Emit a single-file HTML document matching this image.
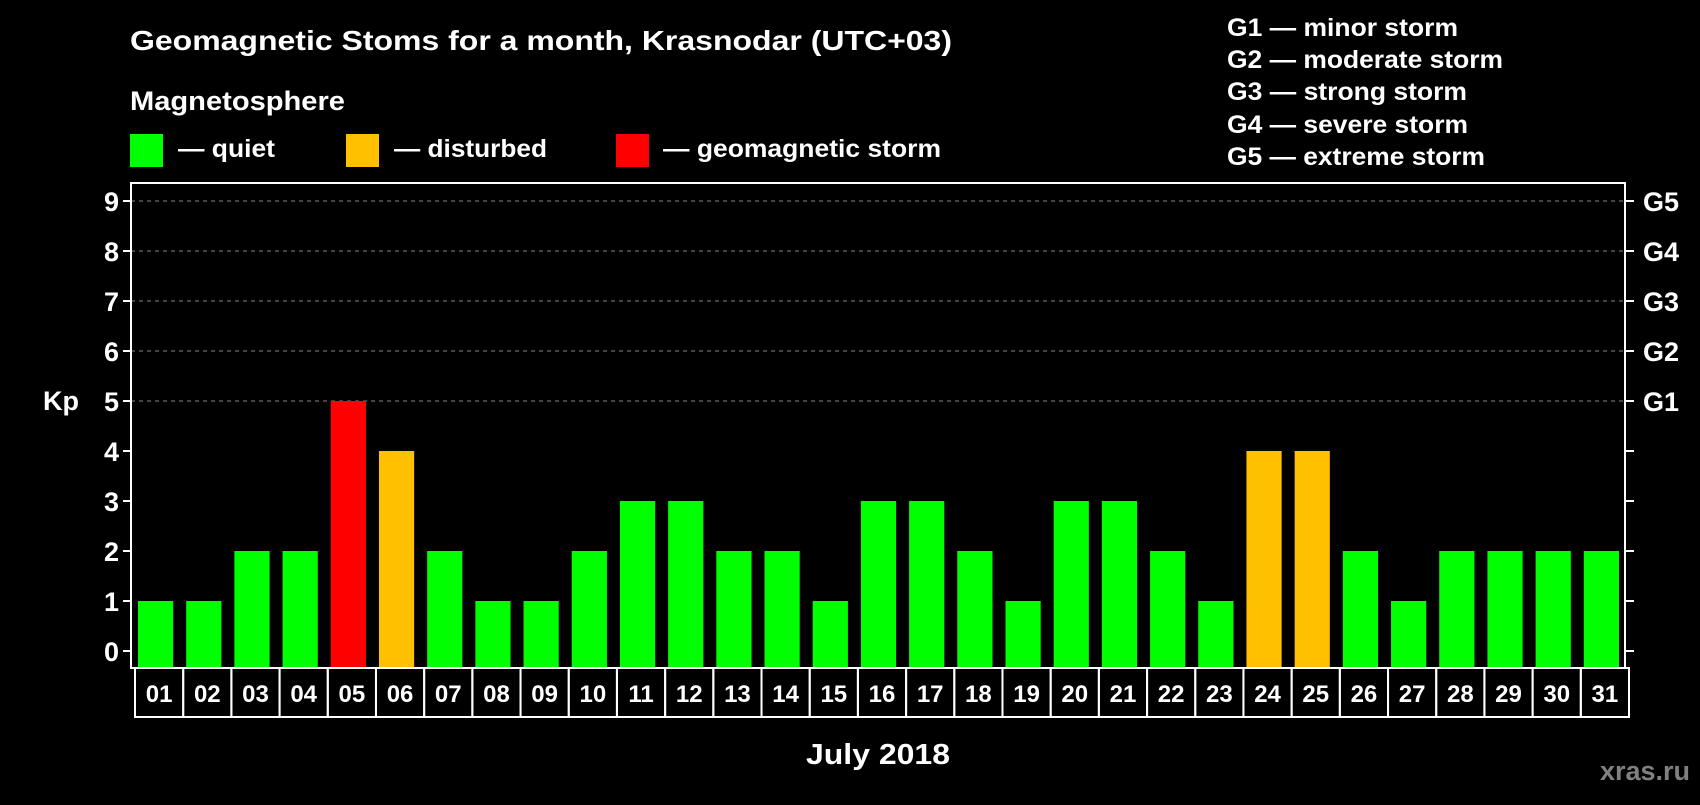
<!DOCTYPE html>
<html><head><meta charset="utf-8"><style>
body{margin:0;background:#000;width:1700px;height:800px;overflow:hidden}
svg text{font-family:"Liberation Sans",Arial,sans-serif;font-weight:bold;fill:#fff}
</style></head><body>
<svg id="c" width="1700" height="800">
<text x="130" y="50" font-size="28" textLength="822" lengthAdjust="spacingAndGlyphs">Geomagnetic Stoms for a month, Krasnodar (UTC+03)</text>
<text x="130" y="110" font-size="27" textLength="215" lengthAdjust="spacingAndGlyphs">Magnetosphere</text>
<rect x="130" y="134" width="33" height="33" fill="#00ff00"/>
<text x="178" y="157" font-size="25" textLength="97" lengthAdjust="spacingAndGlyphs">— quiet</text>
<rect x="346" y="134" width="33" height="33" fill="#ffc000"/>
<text x="394" y="157" font-size="25" textLength="153" lengthAdjust="spacingAndGlyphs">— disturbed</text>
<rect x="616" y="134" width="33" height="33" fill="#ff0000"/>
<text x="663" y="157" font-size="25" textLength="278" lengthAdjust="spacingAndGlyphs">— geomagnetic storm</text>
<g font-size="25">
<text x="1227" y="36" textLength="231" lengthAdjust="spacingAndGlyphs">G1 — minor storm</text>
<text x="1227" y="68" textLength="276" lengthAdjust="spacingAndGlyphs">G2 — moderate storm</text>
<text x="1227" y="100" textLength="240" lengthAdjust="spacingAndGlyphs">G3 — strong storm</text>
<text x="1227" y="133" textLength="241" lengthAdjust="spacingAndGlyphs">G4 — severe storm</text>
<text x="1227" y="165" textLength="258" lengthAdjust="spacingAndGlyphs">G5 — extreme storm</text>
</g>
<text x="43" y="410" font-size="27">Kp</text>
<text x="878" y="764" font-size="29" text-anchor="middle" textLength="144" lengthAdjust="spacingAndGlyphs">July 2018</text>
<text x="1690" y="780" font-size="27" text-anchor="end" style="fill:#808080">xras.ru</text>
<g id="plot"></g>
</svg>
<script>
const days=["01","02","03","04","05","06","07","08","09","10","11","12","13","14","15","16","17","18","19","20","21","22","23","24","25","26","27","28","29","30","31"];
const kp=[1,1,2,2,5,4,2,1,1,2,3,3,2,2,1,3,3,2,1,3,3,2,1,4,4,2,1,2,2,2,2];
const yTicks=[0,1,2,3,4,5,6,7,8,9];
const gLabels=["G1","G2","G3","G4","G5"];
const L=131,R=1625,T=183,B=668,y0=651,unit=50;
const NS="http://www.w3.org/2000/svg";
const g=document.getElementById('plot');
const slot=(R-L)/days.length;
const yS=v=>y0-v*unit;
const xS=i=>L+i*slot;
function mk(t,a){const e=document.createElementNS(NS,t);for(const k in a)e.setAttribute(k,a[k]);g.appendChild(e);return e;}
yTicks.forEach(v=>{
 if(v>=5){const l=mk('line',{x1:L,x2:R,y1:yS(v),y2:yS(v),stroke:'#888','stroke-dasharray':'4,4','stroke-width':1});
 
 }
 const t1=mk('line',{x1:L-8,x2:L,y1:yS(v),y2:yS(v),stroke:'#fff','stroke-width':2});
 const t2=mk('line',{x1:R,x2:R+9,y1:yS(v),y2:yS(v),stroke:'#fff','stroke-width':2});
 const tx=mk('text',{x:L-12,y:yS(v)+10,'font-size':27,'text-anchor':'end'});tx.textContent=v;
 
 
});
gLabels.forEach((s,i)=>{const t=mk('text',{x:R+18,y:yS(5+i)+10,'font-size':27});t.textContent=s;
 
 });
kp.forEach((v,i)=>{
 const c=v>=5?'#ff0000':v>=4?'#ffc000':'#00ff00';
 const r=mk('rect',{x:xS(i)+7,y:yS(v),width:slot-13,height:B-yS(v),fill:c});
 
 
 const b=mk('rect',{x:xS(i)+4,y:B,width:slot,height:49,fill:'none',stroke:'#fff','stroke-width':2});
 
 
 const t=mk('text',{x:xS(i)+4+slot/2,y:B+34,'font-size':24,'text-anchor':'middle'});t.textContent=days[i];
 
 
});
const f=mk('rect',{x:L,y:T,width:R-L,height:B-T,fill:'none',stroke:'#fff','stroke-width':2});


</script>
</body></html>
